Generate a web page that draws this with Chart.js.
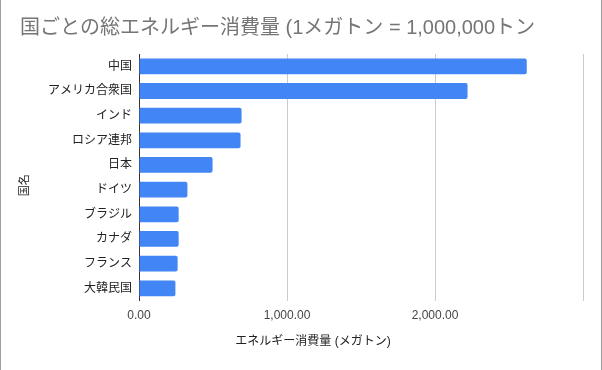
<!DOCTYPE html>
<html>
<head>
<meta charset="utf-8">
<script src="https://cdn.jsdelivr.net/npm/chart.js@4"></script>
<style>
  body { margin: 0; background: #fff; }
  #wrap { width: 600px; height: 370px; border-left: 1px solid #9e9e9e; border-right: 1px solid #9e9e9e; }
</style>
</head>
<body>
<div id="wrap"><canvas id="chart" width="600" height="370"></canvas></div>
<script>
// data
const categories = ['中国', 'アメリカ合衆国', 'インド', 'ロシア連邦', '日本', 'ドイツ', 'ブラジル', 'カナダ', 'フランス', '大韓民国'];
const consumption = [2620, 2220, 693, 686, 497, 327, 268, 268, 261, 246];
const xTicks = [0, 1000, 2000, 3000];

const FONT = "'Liberation Sans', 'Noto Sans CJK JP', sans-serif";

// axis titles, placed the way the original chart has them
const axisTitles = {
  id: 'axisTitles',
  afterDraw(chart) {
    const ctx = chart.ctx;
    const area = chart.chartArea;
    ctx.save();
    ctx.fillStyle = '#222';
    ctx.font = '12px ' + FONT;
    ctx.textAlign = 'center';
    ctx.textBaseline = 'middle';
    ctx.fillText('エネルギー消費量 (メガトン)', chart.width / 2 + 12, area.bottom + 41);
    ctx.translate(24, (area.top + area.bottom) / 2 + 8);
    ctx.rotate(-Math.PI / 2);
    ctx.font = '11px ' + FONT;
    ctx.fillText('国名', 0, 0);
    ctx.restore();
  }
};

new Chart(document.getElementById('chart'), {
  type: 'bar',
  data: {
    labels: categories,
    datasets: [{
      label: 'エネルギー消費量',
      data: consumption,
      backgroundColor: '#4285f4',
      borderRadius: 2,
      borderSkipped: 'start',
      barPercentage: 0.64,
      categoryPercentage: 1
    }]
  },
  options: {
    indexAxis: 'y',
    responsive: false,
    animation: false,
    layout: { padding: { left: 19, right: 18, top: 0, bottom: 39 } },
    plugins: {
      legend: { display: false },
      tooltip: { enabled: false },
      title: {
        display: true,
        text: '国ごとの総エネルギー消費量 (1メガトン = 1,000,000トン',
        align: 'start',
        color: '#757575',
        font: { family: FONT, size: 20, weight: 'normal', lineHeight: 1.2 },
        padding: { top: 16, bottom: 14 }
      }
    },
    scales: {
      x: {
        min: 0,
        max: 3000,
        afterBuildTicks: (scale) => { scale.ticks = xTicks.map(v => ({ value: v })); },
        ticks: {
          color: '#444',
          font: { family: FONT, size: 12 },
          padding: 8,
          callback: (v) => v === 3000 ? '' : v.toLocaleString('en-US', { minimumFractionDigits: 2, maximumFractionDigits: 2 })
        },
        grid: { color: '#cccccc', drawTicks: false },
        border: { display: false }
      },
      y: {
        afterFit: (scale) => { scale.width = 119; },
        ticks: {
          color: '#222',
          font: { family: FONT, size: 12 },
          padding: 7
        },
        grid: { display: false, drawTicks: false },
        border: { display: true, color: '#333' }
      }
    }
  },
  plugins: [axisTitles]
});
</script>
</body>
</html>
